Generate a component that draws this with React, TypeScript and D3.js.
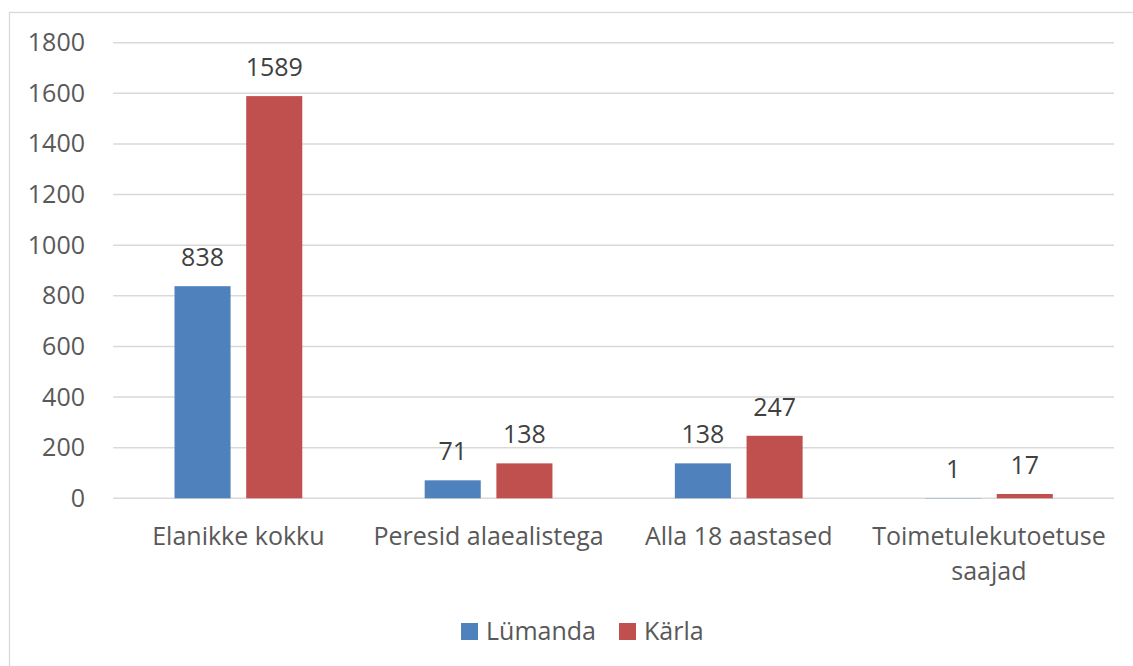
import * as React from 'react';
import * as d3 from 'd3';

const categories = [
  ['Elanikke kokku'],
  ['Peresid alaealistega'],
  ['Alla 18 aastased'],
  ['Toimetulekutoetuse', 'saajad'],
];
const series = ['Lümanda', 'Kärla'];
const lumanda = [838, 71, 138, 1];
const karla = [1589, 138, 247, 17];
const yTicks = [0, 200, 400, 600, 800, 1000, 1200, 1400, 1600, 1800];

const colors = ['#4F81BD', '#C0504D'];
const font = "'Open Sans', sans-serif";

const App = () => {
  const width = 1133;
  const height = 666;
  const left = 113.3;
  const right = 1114;
  const top = 42.7;
  const bottom = 498.3;

  const values = [lumanda, karla];
  const x0 = d3
    .scaleBand<number>()
    .domain(d3.range(categories.length))
    .range([left, right])
    .padding(0);
  const bw = x0.bandwidth();
  const x1 = d3
    .scaleBand<number>()
    .domain(d3.range(series.length))
    .range([61.2, bw - 61.2])
    .paddingInner(0.218)
    .paddingOuter(0);
  const y = d3.scaleLinear().domain([0, 1800]).range([bottom, top]);

  return (
    <svg
      width={width}
      height={height}
      style={{ position: 'absolute', left: 0, top: 0, background: '#fff' }}>
      <rect x={9.5} y={12.5} width={1200} height={700} fill='#fff' stroke='#D9D9D9' strokeWidth={1.3} />
      <g className='grid'>
        {yTicks.map((t) => (
          <g key={t}>
            <line x1={left} x2={right} y1={y(t)} y2={y(t)} stroke='#D9D9D9' strokeWidth={1.4} />
            <text
              x={85}
              y={y(t) + 8.5}
              textAnchor='end'
              fontFamily={font}
              fontSize={25}
              fill='#595959'>
              {t}
            </text>
          </g>
        ))}
      </g>
      {categories.map((c, i) => (
        <g key={i} transform={`translate(${x0(i)},0)`}>
          {values.map((vals, s) => (
            <g key={s}>
              <rect
                x={x1(s)}
                y={y(vals[i])}
                width={x1.bandwidth()}
                height={bottom - y(vals[i])}
                fill={colors[s]}
              />
              <text
                x={(x1(s) as number) + x1.bandwidth() / 2}
                y={y(vals[i]) - 20}
                textAnchor='middle'
                fontFamily={font}
                fontSize={25}
                fill='#404040'>
                {vals[i]}
              </text>
            </g>
          ))}
          {c.map((line, li) => (
            <text
              key={li}
              x={bw / 2}
              y={545 + li * 35}
              textAnchor='middle'
              fontFamily={font}
              fontSize={25}
              fill='#595959'>
              {line}
            </text>
          ))}
        </g>
      ))}
      <g className='legend'>
        {series.map((s, i) => {
          const lx = i === 0 ? 461 : 619;
          return (
            <g key={s} transform={`translate(${lx},623)`}>
              <rect width={17} height={17} fill={colors[i]} />
              <text x={25} y={17} fontFamily={font} fontSize={25} fill='#595959'>
                {s}
              </text>
            </g>
          );
        })}
      </g>
    </svg>
  );
};

export default App;
